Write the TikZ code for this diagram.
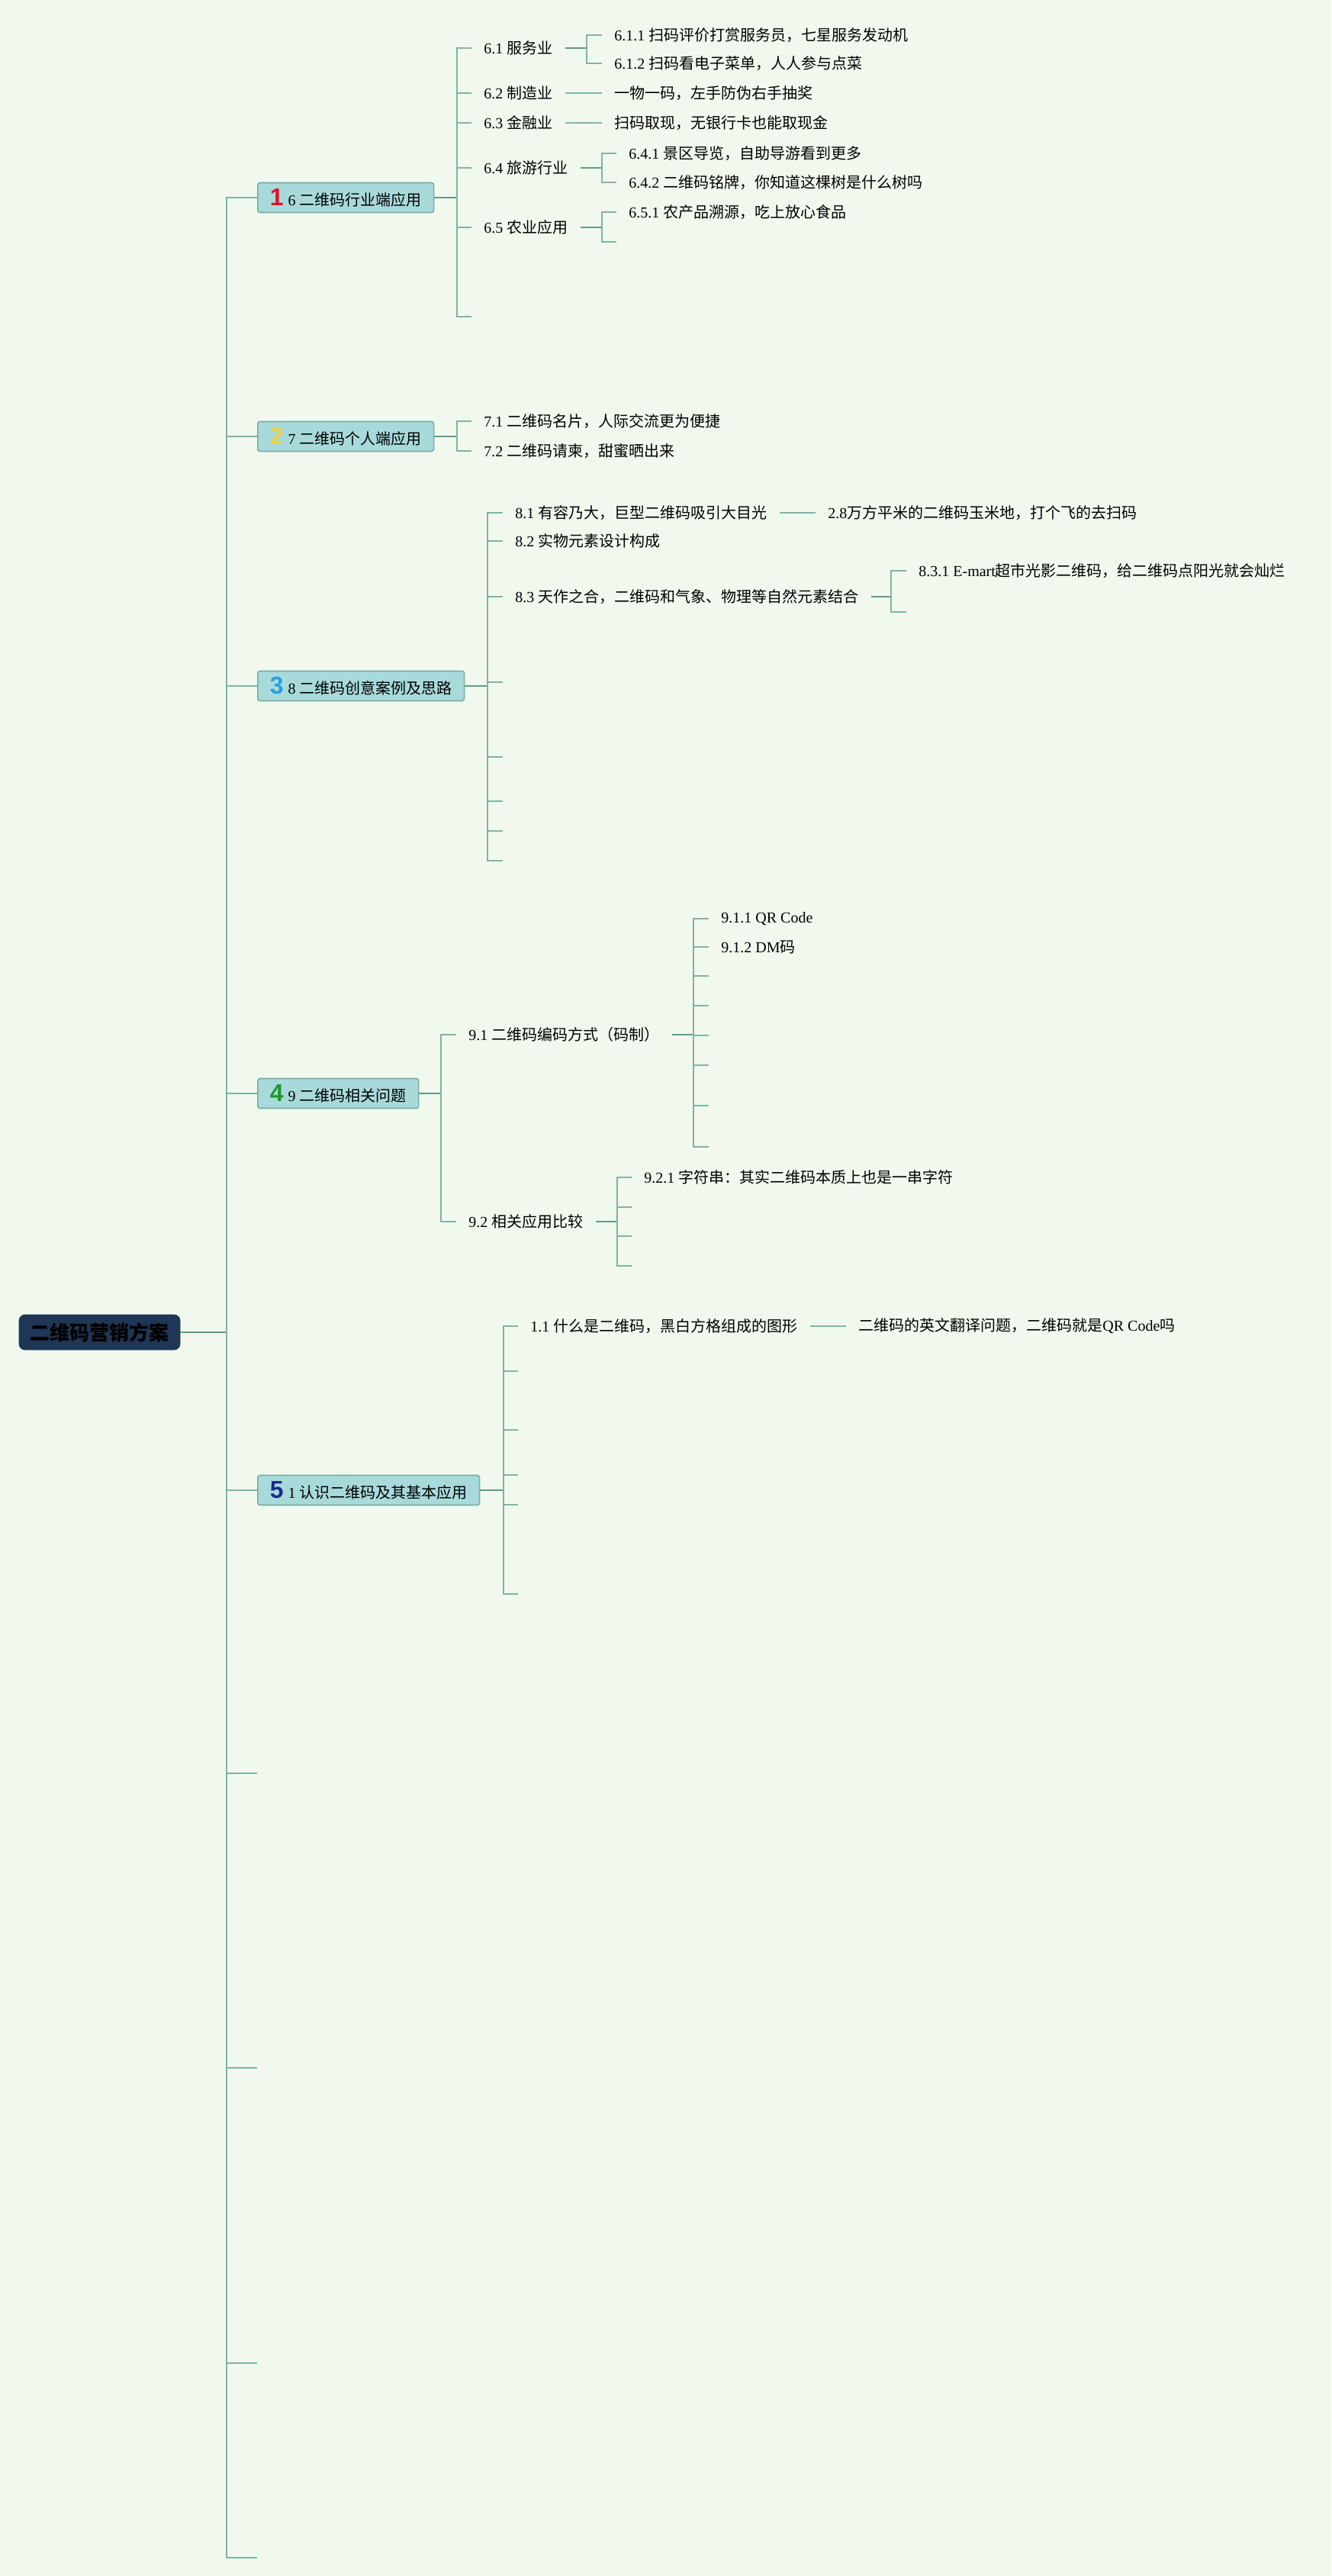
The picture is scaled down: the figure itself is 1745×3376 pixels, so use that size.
\documentclass[tikz,border=0pt]{standalone}
\usepackage{fontspec}
\setmainfont{Liberation Serif}
\newfontfamily\cjk{Noto Sans CJK SC}
\newfontfamily\numf{Liberation Sans}
\usepackage{tikz}
\usetikzlibrary{positioning, calc}
\definecolor{bg}{HTML}{F1F9EF}
\definecolor{wire}{HTML}{80B4A3}
\definecolor{wired}{HTML}{5E9A88}
\definecolor{boxf}{HTML}{A9DADB}
\definecolor{boxd}{HTML}{78AE9F}
\definecolor{navy}{HTML}{1F3655}
\definecolor{mkred}{HTML}{E0102B}
\definecolor{mkyel}{HTML}{F2D33C}
\definecolor{mkblu}{HTML}{2A9FE0}
\definecolor{mkgrn}{HTML}{1A9A2A}
\definecolor{mknav}{HTML}{1B2A8C}
\newcommand{\zh}[1]{{\cjk #1}}
\newcommand{\badge}[2]{{\numf\bfseries\fontsize{16pt}{16pt}\selectfont\textcolor{#1}{#2}}\hspace{3pt}}
\tikzset{
  root/.style={fill=navy, draw=navy, rounded corners=4pt, minimum width=105.5pt, minimum height=23pt,
               inner sep=2pt, font=\cjk\bfseries\fontsize{13pt}{15pt}\selectfont},
  topic/.style={draw=boxd, fill=boxf, line width=0.8pt, rounded corners=1.5pt, anchor=west,
                minimum height=19.5pt, inner xsep=8pt, inner ysep=1pt, font=\fontsize{10pt}{12pt}\selectfont},
  leaf/.style={anchor=west, inner xsep=8pt, inner ysep=1pt, font=\fontsize{10pt}{12pt}\selectfont},
  wire/.style={draw=wire, line width=0.8pt},
  stub/.style={draw=wired, line width=1.3pt},
}

\begin{document}
\begin{tikzpicture}[x=0.5pt, y=-0.5pt]
    \useasboundingbox[fill=bg] (0,0) rectangle (1745,3376);
    % root + trunk
    \node[root] (root) at (130.5,1746) {二维码营销方案};
    \coordinate (trunk) at (297,1746);
    % topics
    \node[topic] (t6) at (337,259)  {\badge{mkred}{1}6 \zh{二维码行业端应用}};
    \node[topic] (t7) at (337,572)  {\badge{mkyel}{2}7 \zh{二维码个人端应用}};
    \node[topic] (t8) at (337,899)  {\badge{mkblu}{3}8 \zh{二维码创意案例及思路}};
    \node[topic] (t9) at (337,1433) {\badge{mkgrn}{4}9 \zh{二维码相关问题}};
    \node[topic] (t1) at (337,1953) {\badge{mknav}{5}1 \zh{认识二维码及其基本应用}};

    \draw[stub] (root.east) -- (trunk);
    \foreach \t in {t6,t7,t8,t9,t1} \draw[wire] (trunk) |- (\t.west);
    \foreach \y [count=\i] in {2324,2710,3097,3352} {
      \coordinate (e0-\i) at (337,\y);
      \draw[wire] (trunk) |- (e0-\i);
    }

    % 6 industry
    \coordinate (bus6) at (599,259);
    \node[leaf] (n61) at (618,63)  {6.1 \zh{服务业}};
    \node[leaf] (n62) at (618,122) {6.2 \zh{制造业}};
    \node[leaf] (n63) at (618,161) {6.3 \zh{金融业}};
    \node[leaf] (n64) at (618,220) {6.4 \zh{旅游行业}};
    \node[leaf] (n65) at (618,298) {6.5 \zh{农业应用}};
    \coordinate (e6-1) at (618,415);
    \draw[stub] (t6.east) -- (bus6);
    \foreach \c in {n61.west,n62.west,n63.west,n64.west,n65.west,e6-1} \draw[wire] (bus6) |- (\c);

    \coordinate (bus61) at (769,63);
    \node[leaf] (n611) at (789,46)  {6.1.1 \zh{扫码评价打赏服务员，七星服务发动机}};
    \node[leaf] (n612) at (789,83)  {6.1.2 \zh{扫码看电子菜单，人人参与点菜}};
    \draw[stub] (n61.east) -- (bus61);
    \foreach \c in {n611,n612} \draw[wire] (bus61) |- (\c.west);

    \node[leaf] (n621) at (789,122) {\zh{一物一码，左手防伪右手抽奖}};
    \node[leaf] (n631) at (789,161) {\zh{扫码取现，无银行卡也能取现金}};
    \draw[wire] (n62.east) -- (n621.west);
    \draw[wire] (n63.east) -- (n631.west);

    \coordinate (bus64) at (789,220);
    \node[leaf] (n641) at (808,201) {6.4.1 \zh{景区导览，自助导游看到更多}};
    \node[leaf] (n642) at (808,239) {6.4.2 \zh{二维码铭牌，你知道这棵树是什么树吗}};
    \draw[stub] (n64.east) -- (bus64);
    \foreach \c in {n641,n642} \draw[wire] (bus64) |- (\c.west);

    \coordinate (bus65) at (789,298);
    \node[leaf] (n651) at (808,278) {6.5.1 \zh{农产品溯源，吃上放心食品}};
    \coordinate (e65-1) at (808,317);
    \draw[stub] (n65.east) -- (bus65);
    \foreach \c in {n651.west,e65-1} \draw[wire] (bus65) |- (\c);

    % 7 personal
    \coordinate (bus7) at (599,572);
    \node[leaf] (n71) at (618,552) {7.1 \zh{二维码名片，人际交流更为便捷}};
    \node[leaf] (n72) at (618,591) {7.2 \zh{二维码请柬，甜蜜晒出来}};
    \draw[stub] (t7.east) -- (bus7);
    \foreach \c in {n71,n72} \draw[wire] (bus7) |- (\c.west);

    % 8 creative
    \coordinate (bus8) at (639,899);
    \node[leaf] (n81) at (659,672) {8.1 \zh{有容乃大，巨型二维码吸引大目光}};
    \node[leaf] (n82) at (659,709) {8.2 \zh{实物元素设计构成}};
    \node[leaf] (n83) at (659,782) {8.3 \zh{天作之合，二维码和气象、物理等自然元素结合}};
    \draw[stub] (t8.east) -- (bus8);
    \foreach \c in {n81,n82,n83} \draw[wire] (bus8) |- (\c.west);
    \foreach \y [count=\i] in {894,992,1050,1089,1128} {
      \coordinate (e8-\i) at (659,\y);
      \draw[wire] (bus8) |- (e8-\i);
    }

    \node[leaf] (n811) at (1069,672) {2.8\zh{万方平米的二维码玉米地，打个飞的去扫码}};
    \draw[wire] (n81.east) -- (n811.west);

    \coordinate (bus83) at (1168,782);
    \node[leaf] (n831) at (1188,748) {8.3.1 E-mart\zh{超市光影二维码，给二维码点阳光就会灿烂}};
    \coordinate (e83-1) at (1188,802);
    \draw[stub] (n83.east) -- (bus83);
    \foreach \c in {n831.west,e83-1} \draw[wire] (bus83) |- (\c);

    % 9 questions
    \coordinate (bus9) at (578,1433);
    \node[leaf] (n91) at (598,1356) {9.1 \zh{二维码编码方式（码制）}};
    \node[leaf] (n92) at (598,1601) {9.2 \zh{相关应用比较}};
    \draw[stub] (t9.east) -- (bus9);
    \foreach \c in {n91,n92} \draw[wire] (bus9) |- (\c.west);

    \coordinate (bus91) at (909,1356);
    \node[leaf] (n911) at (929,1204) {9.1.1 QR Code};
    \node[leaf] (n912) at (929,1241) {9.1.2 DM\zh{码}};
    \draw[stub] (n91.east) -- (bus91);
    \foreach \c in {n911,n912} \draw[wire] (bus91) |- (\c.west);
    \foreach \y [count=\i] in {1279,1318,1357,1396,1449,1503} {
      \coordinate (e91-\i) at (929,\y);
      \draw[wire] (bus91) |- (e91-\i);
    }

    \coordinate (bus92) at (809,1601);
    \node[leaf] (n921) at (828,1543) {9.2.1 \zh{字符串：其实二维码本质上也是一串字符}};
    \draw[stub] (n92.east) -- (bus92);
    \draw[wire] (bus92) |- (n921.west);
    \foreach \y [count=\i] in {1582,1620,1659} {
      \coordinate (e92-\i) at (828,\y);
      \draw[wire] (bus92) |- (e92-\i);
    }

    % 1 basics
    \coordinate (bus1) at (660,1953);
    \node[leaf] (n11) at (679,1738) {1.1 \zh{什么是二维码，黑白方格组成的图形}};
    \draw[stub] (t1.east) -- (bus1);
    \draw[wire] (bus1) |- (n11.west);
    \foreach \y [count=\i] in {1797,1874,1933,1972,2089} {
      \coordinate (e1-\i) at (679,\y);
      \draw[wire] (bus1) |- (e1-\i);
    }

    \node[leaf] (n111) at (1109,1738) {\zh{二维码的英文翻译问题，二维码就是}QR Code\zh{吗}};
    \draw[wire] (n11.east) -- (n111.west);
\end{tikzpicture}
\end{document}
